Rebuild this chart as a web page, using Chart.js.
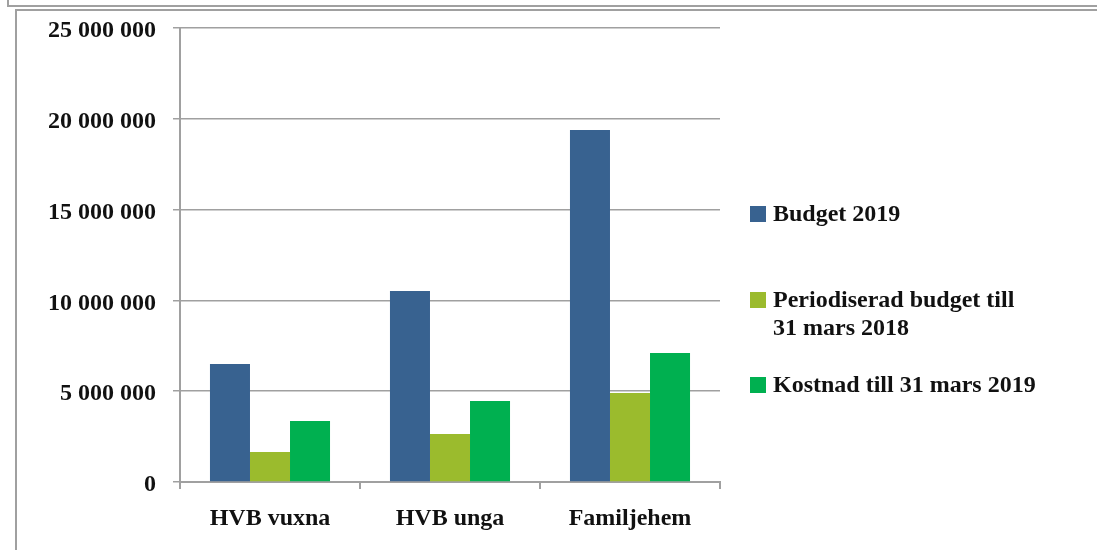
<!DOCTYPE html>
<html>
<head>
<meta charset="utf-8">
<script src="https://cdn.jsdelivr.net/npm/chart.js@4"></script>
<style>
  html, body { margin: 0; padding: 0; background: #fff; }
  #wrap { width: 1097px; height: 550px; position: relative; }
</style>
</head>
<body>
<div id="wrap"><canvas id="chart"></canvas></div>
<script>
// Data
const categories   = ['HVB vuxna', 'HVB unga', 'Familjehem'];
const seriesNames  = ['Budget 2019', 'Periodiserad budget till\n31 mars 2018', 'Kostnad till 31 mars 2019'];
const budget2019   = [6500000, 10520000, 19380000];
const periodiserad = [1650000, 2640000, 4900000];
const kostnad      = [3360000, 4460000, 7100000];
const yTicks       = [0, 5000000, 10000000, 15000000, 20000000, 25000000];

const colors  = ['#386290', '#9bbb2d', '#00b050'];
const FONT    = '"Liberation Serif", "Times New Roman", serif';
const GRID    = '#a0a0a0';

const fmt = v => String(v).replace(/\B(?=(\d{3})+(?!\d))/g, ' ');

// page frame lines + custom legend (multi-line labels)
const framePlugin = {
  id: 'frame',
  beforeDraw(chart) {
    const c = chart.ctx;
    c.save();
    c.strokeStyle = GRID;
    c.lineWidth = 2;
    c.beginPath();
    c.moveTo(8, 0); c.lineTo(8, 6); c.lineTo(1097, 6);
    c.moveTo(1097, 10); c.lineTo(16, 10); c.lineTo(16, 550);
    c.stroke();
    c.restore();
  },
  afterDraw(chart) {
    const c = chart.ctx;
    const rows = [214, 300, 385];
    c.save();
    c.font = 'bold 24px ' + FONT;
    c.textBaseline = 'middle';
    chart.data.datasets.forEach((ds, i) => {
      const y = rows[i];
      c.fillStyle = ds.backgroundColor;
      c.fillRect(750, y - 8, 16, 16);
      c.fillStyle = '#111';
      ds.label.split('\n').forEach((line, k) => {
        c.fillText(line, 773, y + 1 + k * 28);
      });
    });
    c.restore();
  }
};

const datasets = [budget2019, periodiserad, kostnad].map((d, i) => ({
  label: seriesNames[i],
  data: d,
  backgroundColor: colors[i],
  borderWidth: 0
}));

new Chart(document.getElementById('chart'), {
  type: 'bar',
  data: { labels: categories, datasets },
  options: {
    responsive: true,
    maintainAspectRatio: false,
    animation: false,
    layout: { padding: { left: 0, top: 28, right: 377, bottom: 0 } },
    datasets: { bar: { categoryPercentage: 0.667, barPercentage: 1 } },
    plugins: { legend: { display: false }, tooltip: { enabled: false } },
    scales: {
      x: {
        offset: true,
        grid: { offset: true, drawOnChartArea: false, drawTicks: true, tickLength: 7, color: GRID, lineWidth: 2 },
        border: { color: GRID, width: 2 },
        ticks: { color: '#111', font: { family: FONT, size: 24, weight: 'bold' }, padding: 15 },
        afterFit: s => { s.height = 68; s.paddingLeft = 0; s.paddingRight = 0; }
      },
      y: {
        min: 0,
        max: 25000000,
        afterBuildTicks: s => { s.ticks = yTicks.map(v => ({ value: v })); },
        grid: { color: GRID, lineWidth: 1.5, tickLength: 7 },
        border: { color: GRID, width: 2 },
        ticks: {
          color: '#111',
          padding: 17,
          labelOffset: 3,
          font: { family: FONT, size: 24, weight: 'bold' },
          callback: v => fmt(v)
        },
        afterFit: s => { s.width = 180; s.paddingTop = 0; s.paddingBottom = 0; }
      }
    }
  },
  plugins: [framePlugin]
});
</script>
</body>
</html>
